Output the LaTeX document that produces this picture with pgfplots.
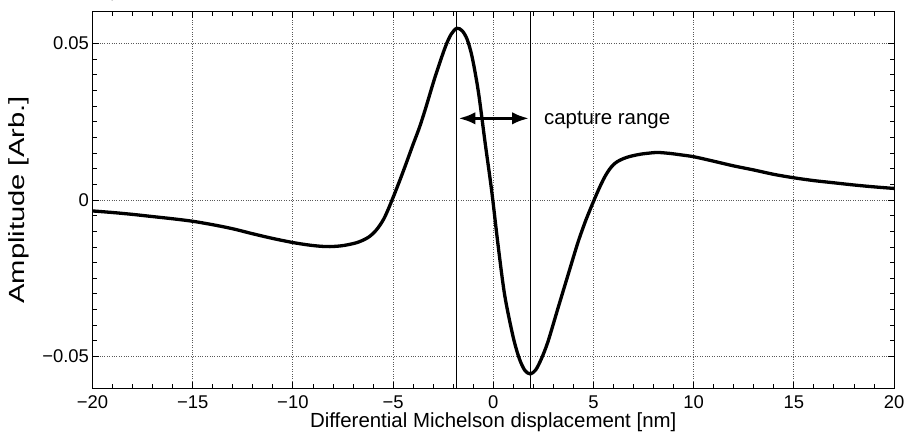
\documentclass[border=0pt]{standalone}
\usepackage{fontspec}
\setmainfont{Liberation Sans}
\newfontfamily\ylabfont[FakeStretch=1.33]{Liberation Sans}
\usepackage{pgfplots}
\pgfplotsset{compat=1.18}
\usetikzlibrary{arrows.meta}

\begin{document}
\begin{tikzpicture}
\path[use as bounding box] (0,0) rectangle (909bp,441bp);
\begin{axis}[
  at={(92.5bp,52.7bp)}, anchor=south west,
  scale only axis, width=801.5bp, height=376.6bp,
  xmin=-20, xmax=20, ymin=-0.0602, ymax=0.0602,
  xtick={-20,-15,...,20},
  xticklabels={−20,−15,−10,−5,0,5,10,15,20},
  ytick={-0.05,0,0.05},
  yticklabels={−0.05,0,0.05},
  minor x tick num=4, minor y tick num=9,
  tick align=inside, major tick length=6bp, minor tick length=4bp,
  xmajorgrids, ymajorgrids,
  grid style={dotted, black!65, line width=0.8bp},
  axis line style={line width=1bp},
  every tick/.style={line width=0.8bp, black},
  tick label style={font=\fontsize{18.5}{21}\selectfont},
  xticklabel style={yshift=-3.5bp},
  xlabel={Differential Michelson displacement [nm]},
  xlabel style={font=\fontsize{20.5}{24}\selectfont, at={(axis description cs:0.5,-0.1045)}, anchor=base},
  ylabel={Amplitude [Arb.]},
  ylabel style={font=\ylabfont\fontsize{22}{25}\selectfont, at={(axis description cs:-0.0917,0.5)}, anchor=center},
]
\addplot[black, line width=3.3bp, smooth] table {
x y
-20 -0.0035
-19 -0.0040
-18 -0.0046
-17 -0.0053
-16 -0.0060
-15 -0.0068
-14 -0.0079
-13 -0.0092
-12 -0.0108
-11 -0.0123
-10 -0.0136
-9.2 -0.0144
-8.6 -0.0148
-8.15 -0.0149
-7.65 -0.0147
-7.25 -0.0143
-6.85 -0.0137
-6.55 -0.0130
-6.25 -0.0120
-6.05 -0.0110
-5.85 -0.0097
-5.65 -0.0080
-5.45 -0.0059
-5.25 -0.0031
-5.05 0.0000
-4.85 0.0032
-4.65 0.0065
-4.45 0.0099
-4.25 0.0134
-4.0 0.0178
-3.7 0.0229
-3.4 0.0288
-2.9 0.0394
-2.4 0.0488
-2.1 0.0530
-1.82 0.0549
-1.55 0.0541
-1.3 0.0513
-1.05 0.0456
-0.74 0.0345
-0.41 0.0185
-0.08 0.0030
0.24 -0.0144
0.57 -0.0304
0.99 -0.0437
1.30 -0.0507
1.58 -0.0545
1.85 -0.0556
2.12 -0.0543
2.40 -0.0508
2.73 -0.0453
3.23 -0.0346
3.73 -0.0240
4.23 -0.0135
4.6 -0.0068
4.8 -0.0036
5.0 -0.0005
5.2 0.0025
5.4 0.0053
5.6 0.0078
5.8 0.0098
6.0 0.0113
6.2 0.0123
6.45 0.0131
6.7 0.0137
7.0 0.0142
7.4 0.0147
7.8 0.0150
8.2 0.0152
8.8 0.0149
9.4 0.0144
10.03 0.0138
11 0.0124
12 0.0109
13 0.0096
14 0.0082
15 0.0071
16 0.0062
17 0.0055
18 0.0048
19 0.0042
20 0.0037
};
\addplot[black, line width=1.2bp] coordinates {(-1.82,-0.0602) (-1.82,0.0602)};
\addplot[black, line width=1.2bp] coordinates {(1.85,-0.0602) (1.85,0.0602)};
\addplot[black, line width=3.3bp, {Latex[length=17bp,width=12.5bp]}-{Latex[length=17bp,width=12.5bp]}] coordinates {(-1.74,0.0261) (1.79,0.0261)};
\node[anchor=base west, inner sep=0pt, font=\fontsize{20.5}{24}\selectfont] at (axis cs:2.53,0.0242) {capture range};
\end{axis}
\end{tikzpicture}
\end{document}
